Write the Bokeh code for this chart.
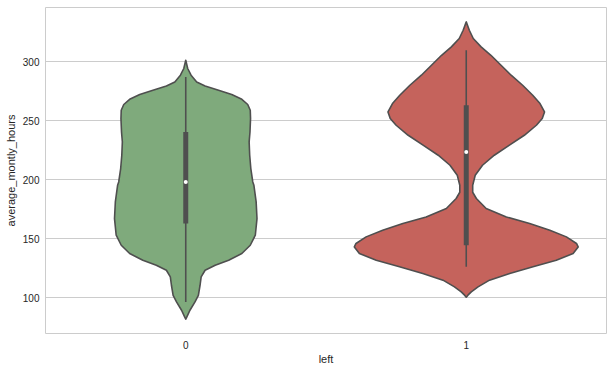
from bokeh.plotting import figure
from bokeh.models import Range1d, FixedTicker
from bokeh.embed import file_html
from bokeh.resources import INLINE

# categories
categories = ["0", "1"]
cat_pos = [0, 1]

# violin outlines: value (hours) and half-width (x units)
green_y = [301.1, 294.1, 288.4, 282.7, 279.3, 275.7, 272.0, 268.0, 263.6, 258.7, 251.7, 240.3,
           231.9, 220.6, 209.3, 198.0, 195.1, 181.0, 166.9, 152.8, 144.3, 137.3, 131.6, 127.4,
           123.1, 117.5, 110.4, 101.9, 96.3, 89.2, 83.6, 81.6]
green_w = [0.0, 0.007, 0.019, 0.039, 0.069, 0.117, 0.164, 0.200, 0.221, 0.230, 0.231, 0.229,
           0.226, 0.228, 0.232, 0.239, 0.243, 0.251, 0.254, 0.248, 0.230, 0.200, 0.153, 0.105,
           0.069, 0.055, 0.051, 0.045, 0.033, 0.015, 0.004, 0.0]

red_y = [333.6, 326.5, 319.5, 312.4, 305.3, 296.9, 288.4, 279.9, 271.4, 264.4, 257.3, 251.7,
         246.0, 237.5, 229.1, 220.6, 212.1, 203.6, 195.2, 189.2, 183.9, 175.4, 168.3, 162.7,
         157.0, 151.4, 145.8, 142.9, 137.3, 131.6, 126.0, 120.3, 114.7, 109.0, 104.8, 102.0, 100.3]
red_w = [0.0, 0.011, 0.025, 0.053, 0.088, 0.124, 0.160, 0.201, 0.237, 0.263, 0.279, 0.271,
         0.250, 0.207, 0.154, 0.100, 0.058, 0.032, 0.023, 0.023, 0.036, 0.071, 0.143, 0.226,
         0.298, 0.357, 0.393, 0.399, 0.381, 0.321, 0.238, 0.155, 0.083, 0.042, 0.018, 0.006, 0.0]

# inner box statistics
whisker_lo = [96.3, 126.0]
q1 = [162.7, 144.3]
median = [198.0, 223.4]
q3 = [240.3, 263.0]
whisker_hi = [287.0, 309.6]

fills = ["#7faa7c", "#c5635c"]
edge = "#4f4f4f"

p = figure(width=610, height=370, output_backend="svg", toolbar_location=None,
           x_range=Range1d(-0.5, 1.5), y_range=Range1d(69.5, 345.8),
           min_border_left=45, min_border_right=4, min_border_top=7, min_border_bottom=37)
p.background_fill_color = "white"
p.border_fill_color = "white"
p.outline_line_color = "#cccccc"
p.outline_line_width = 1

profiles = [(green_y, green_w), (red_y, red_w)]
for i, (ys, ws) in enumerate(profiles):
    c = cat_pos[i]
    xs = [c - w for w in ws] + [c + w for w in reversed(ws)]
    yy = list(ys) + list(reversed(ys))
    p.patch(xs, yy, fill_color=fills[i], line_color=edge, line_width=1.6, line_join="round")

p.segment(x0=cat_pos, y0=whisker_lo, x1=cat_pos, y1=whisker_hi, line_color=edge, line_width=1.6)
p.segment(x0=cat_pos, y0=q1, x1=cat_pos, y1=q3, line_color=edge, line_width=5, line_cap="butt")
p.scatter(x=cat_pos, y=median, size=4, fill_color="white", line_color=None)

p.xgrid.grid_line_color = None
p.ygrid.grid_line_color = "#cccccc"
p.ygrid.grid_line_width = 1

p.xaxis.ticker = FixedTicker(ticks=cat_pos)
p.xaxis.major_label_overrides = {0: "0", 1: "1"}
p.yaxis.ticker = FixedTicker(ticks=[100, 150, 200, 250, 300])

for ax in (p.xaxis[0], p.yaxis[0]):
    ax.axis_line_color = None
    ax.major_tick_line_color = None
    ax.minor_tick_line_color = None
    ax.major_tick_out = 0
    ax.major_tick_in = 0
    ax.minor_tick_out = 0
    ax.minor_tick_in = 0
    ax.major_label_text_font = "Liberation Sans"
    ax.major_label_text_font_size = "10px"
    ax.major_label_text_color = "#262626"
    ax.axis_label_text_font = "Liberation Sans"
    ax.axis_label_text_font_size = "11px"
    ax.axis_label_text_font_style = "normal"
    ax.axis_label_text_color = "#262626"

p.xaxis.axis_label = "left"
p.yaxis.axis_label = "average_montly_hours"
p.xaxis.major_label_standoff = 7
p.xaxis.axis_label_standoff = 1
p.yaxis.major_label_standoff = 6
p.yaxis.axis_label_standoff = 3

open("out.html", "w").write(file_html(p, INLINE))
